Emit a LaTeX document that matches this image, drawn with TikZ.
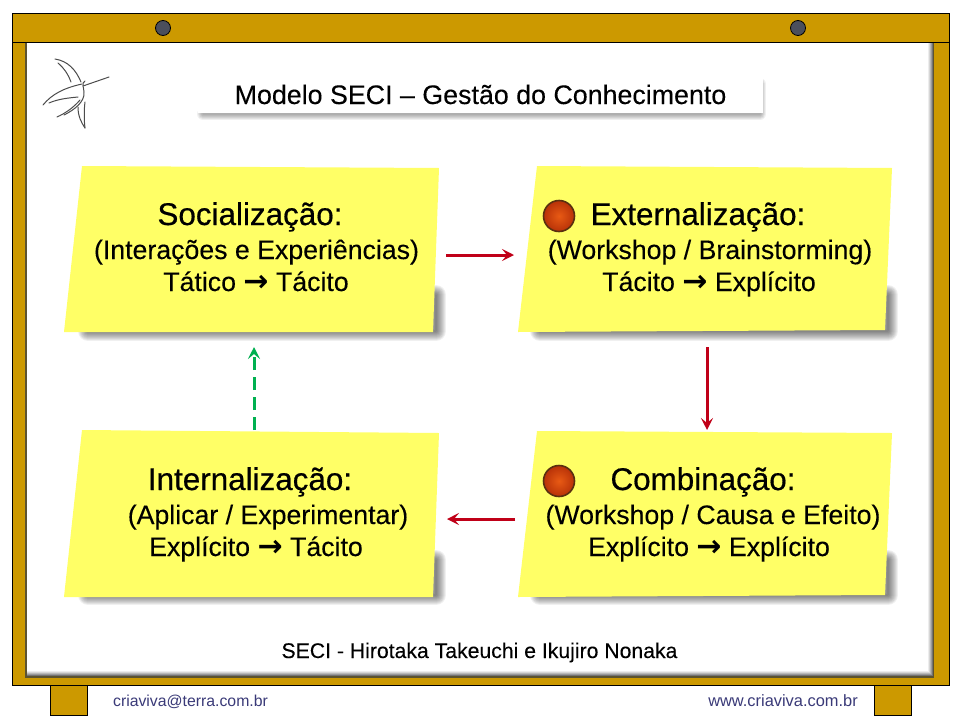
\documentclass[tikz,border=0pt]{standalone}
\usepackage{fontspec}
\setmainfont{Liberation Sans}
\newfontfamily\arrowfont{DejaVu Sans}
\newfontfamily\headfont[FakeBold=0.5]{Liberation Sans}
\newfontfamily\bodyfont[FakeBold=0.15]{Liberation Sans}
\usetikzlibrary{arrows.meta,shadings}
\definecolor{gold}{HTML}{CC9900}
\definecolor{note}{HTML}{FFFF66}
\definecolor{darkred}{HTML}{C00018}
\definecolor{greenarrow}{HTML}{00B050}
\definecolor{footer}{HTML}{3A3A78}
\definecolor{pin}{HTML}{4B4F5C}
\definecolor{ballin}{HTML}{E85A14}
\definecolor{ballout}{HTML}{B83208}
\definecolor{ballrim}{HTML}{5A3010}
\definecolor{olive}{HTML}{5C5330}
\newcommand{\softshadow}[2]{%
  \foreach \w in {2,4,...,#1}{%
    \draw[black,opacity=.06,line width=\w pt,line join=round,line cap=round] #2;}}
\newcommand{\yes}{{\arrowfont\bfseries\fontsize{30}{30}\selectfont →}}
\tikzset{
  x=1pt,y=-1pt,
  frameline/.style={draw=black,line width=1pt,fill=gold},
  notepaper/.style={fill=note},
  anchorbox/.style={inner sep=0pt,outer sep=0pt},
  heading/.style={font=\headfont\fontsize{31.4}{34}\selectfont,text=black,anchor=base,inner sep=0pt},
  bodytext/.style={font=\bodyfont\fontsize{26.7}{30}\selectfont,text=black,anchor=base,inner sep=0pt},
  flowred/.style={draw=darkred,line width=3pt,-{Stealth[length=12pt,width=12pt,inset=5pt]}},
  flowgreen/.style={draw=greenarrow,line width=3pt,dash pattern=on 13pt off 7pt,-{Stealth[length=12pt,width=12pt,inset=5pt]}},
  ball/.style={circle,minimum size=31pt,inner sep=0pt,draw=ballrim,line width=1.6pt,inner color=ballin,outer color=ballout},
  footertext/.style={font=\fontsize{15.8}{18}\selectfont,text=footer,inner sep=0pt,anchor=base},
  logo/.style={draw=black!70,line width=1pt,line cap=round},
}
\begin{document}
\begin{tikzpicture}
\useasboundingbox (0,0) rectangle (960,720);
\fill[white] (0,0) rectangle (960,720);
% frame
\draw[frameline] (50,685) rectangle (87,715);
\draw[frameline] (874,685) rectangle (911,715);
\draw[frameline] (12,13) rectangle (949,685);
% board with soft inner edge (nested rectangles)
\fill[olive] (25,42) rectangle (934,678);
\fill[black!55] (27,42) rectangle (933,676);
\fill[black!40] (27,42) rectangle (932,675);
\fill[black!28] (27,42) rectangle (931,674);
\fill[black!16] (27,42) rectangle (930,673);
\fill[black!7] (27,42) rectangle (929,672);
\fill[white] (27,42) rectangle (928,671);
\draw[black,line width=1pt] (12,42) -- (949,42);
\node[circle,fill=pin,draw=black,line width=.8pt,minimum size=15pt,inner sep=0pt] (pinA) at (163,28) {};
\node[circle,fill=pin,draw=black,line width=.8pt,minimum size=15pt,inner sep=0pt] (pinB) at (798,28) {};
% logo
\draw[logo] (55,59) .. controls (68,61) and (76,70) .. (81,82);
\draw[logo] (58,63) .. controls (64,68) and (68,74) .. (71,82);
\draw[logo] (83,86) -- (109,77);
\draw[logo] (85,81) .. controls (81,83) and (84,88) .. (84,92) .. controls (85,102) and (74,110) .. (64,115);
\draw[logo] (43,105) .. controls (52,94) and (64,88) .. (82,84);
\draw[logo] (49,103) .. controls (58,99) and (68,98) .. (78,97);
\draw[logo] (57,117) .. controls (66,113) and (74,107) .. (80,100);
\draw[logo] (78,107) .. controls (78,116) and (81,122) .. (85,128);
\draw[logo] (85,102) .. controls (84,110) and (84,120) .. (85,128);
% title
\softshadow{12}{(203,114) -- (760,114) -- (760,84)}
\fill[white] (198,76) rectangle (763,113);
\node[font=\bodyfont\fontsize{26.8}{30}\selectfont,text=black,inner sep=0pt,anchor=base] (title) at (480.5,104) {Modelo SECI – Gestão do Conhecimento};
% notes: shadows
\softshadow{20}{(88,331) -- (436,331) -- (436,295)}
\softshadow{20}{(540,331) -- (888,331) -- (888,295)}
\softshadow{20}{(88,595) -- (436,595) -- (436,560)}
\softshadow{20}{(540,595) -- (888,595) -- (888,560)}
\fill[notepaper] (82,166) -- (439,168) -- (433,332) -- (64,332) -- cycle;
\fill[notepaper] (537,166) -- (892,168) -- (885,330) -- (518,332) -- cycle;
\fill[notepaper] (82,430) -- (439,433) -- (433,597) -- (64,597) -- cycle;
\fill[notepaper] (537,431) -- (892,433) -- (885,595) -- (518,597) -- cycle;
% anchors for connectors
\node[anchorbox,minimum width=368pt,minimum height=160pt] (soc) at (254,255) {};
\node[anchorbox,minimum width=370pt,minimum height=160pt] (ext) at (707,255) {};
\node[anchorbox,minimum width=368pt,minimum height=176pt] (int) at (254,519) {};
\node[anchorbox,minimum width=370pt,minimum height=176pt] (com) at (707,519) {};
% text
\node[heading] (socH) at (250,225) {Socialização:};
\node[bodytext] (socA) at (256.5,259) {(Interações e Experiências)};
\node[bodytext] (socB) at (256,291) {Tático \yes{} Tácito};
\node[heading] (extH) at (698,225) {Externalização:};
\node[bodytext] (extA) at (710,259) {(Workshop / Brainstorming)};
\node[bodytext] (extB) at (709,291) {Tácito \yes{} Explícito};
\node[heading] (intH) at (250,490) {Internalização:};
\node[bodytext] (intA) at (268,524) {(Aplicar / Experimentar)};
\node[bodytext] (intB) at (256,556) {Explícito \yes{} Tácito};
\node[heading] (comH) at (703,490) {Combinação:};
\node[bodytext] (comA) at (713,524) {(Workshop / Causa e Efeito)};
\node[bodytext] (comB) at (709,556) {Explícito \yes{} Explícito};
\node[ball] (ballA) at (559,216) {};
\node[ball] (ballB) at (559,481) {};
% connectors
\draw[flowred,shorten <=8pt,shorten >=8pt] (soc.east) -- (ext.west);
\draw[flowred,shorten <=12pt,shorten >=1pt] (ext.south) -- (com.north);
\draw[flowred,shorten <=7pt,shorten >=9pt] (com.west) -- (int.east);
\draw[flowgreen,shorten <=1pt,shorten >=12pt] (int.north) -- (soc.south);
% footer
\node[font=\bodyfont\fontsize{21.2}{24}\selectfont,text=black,inner sep=0pt,anchor=base] (credit) at (479.5,658) {SECI - Hirotaka Takeuchi e Ikujiro Nonaka};
\node[footertext] (mail) at (190.5,706) {criaviva@terra.com.br};
\node[footertext,font=\fontsize{16.4}{18}\selectfont] (web) at (783,706) {www.criaviva.com.br};
\end{tikzpicture}
\end{document}
